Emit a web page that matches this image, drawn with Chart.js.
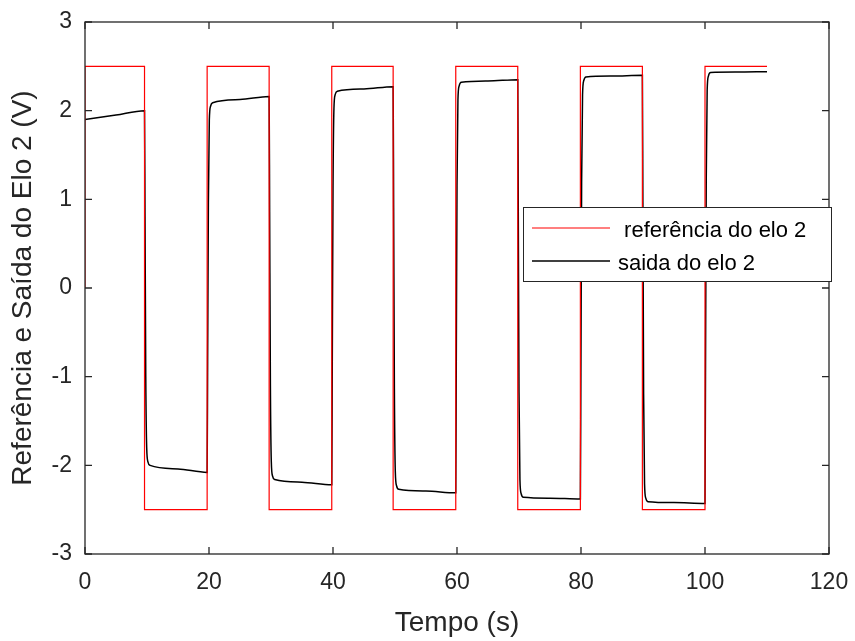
<!DOCTYPE html>
<html>
<head>
    <meta charset="utf-8">
    <title>Referência e Saída do Elo 2</title>
    <script src="https://cdn.jsdelivr.net/npm/chart.js"></script>
    <style>
        body { margin: 0; background: #fff; }
    </style>
</head>
<body>
<div style="width: 855px; height: 641px;">
    <canvas id="lineChart"></canvas>
</div>

<script>
    // referência (onda quadrada)
    const refX = [0, 0, 9.6, 9.6, 19.7, 19.7, 29.7, 29.7, 39.8, 39.8, 49.7, 49.7,
                  59.8, 59.8, 69.8, 69.8, 79.9, 79.9, 89.9, 89.9, 100, 100, 110];
    const refY = [0, 2.5, 2.5, -2.5, -2.5, 2.5, 2.5, -2.5, -2.5, 2.5, 2.5, -2.5,
                  -2.5, 2.5, 2.5, -2.5, -2.5, 2.5, 2.5, -2.5, -2.5, 2.5, 2.5];

    // saida do elo 2
    const outX = [0, 5, 9.6,
                  9.68, 9.8, 9.95, 10.15, 10.5, 15, 19.7,
                  19.78, 19.9, 20.05, 20.25, 20.6, 25, 29.7,
                  29.78, 29.9, 30.05, 30.25, 30.6, 35, 39.8,
                  39.88, 40.0, 40.15, 40.35, 40.7, 45, 49.7,
                  49.78, 49.9, 50.05, 50.25, 50.6, 55, 59.8,
                  59.88, 60.0, 60.15, 60.35, 60.7, 65, 69.8,
                  69.88, 70.0, 70.15, 70.35, 70.7, 75, 79.9,
                  79.98, 80.1, 80.25, 80.45, 80.8, 85, 89.9,
                  89.98, 90.1, 90.25, 90.45, 90.8, 95, 100,
                  100.08, 100.2, 100.35, 100.55, 100.9, 105, 110];
    const outY = [1.90, 1.95, 2.00,
                  0.80, -1.00, -1.80, -1.96, -2.00, -2.04, -2.08,
                  -0.83, 0.96, 1.89, 2.05, 2.09, 2.125, 2.16,
                  0.86, -1.08, -1.96, -2.12, -2.16, -2.19, -2.22,
                  -0.89, 1.11, 2.02, 2.18, 2.22, 2.245, 2.27,
                  0.91, -1.14, -2.07, -2.23, -2.27, -2.29, -2.31,
                  -0.92, 1.16, 2.12, 2.28, 2.32, 2.335, 2.35,
                  0.94, -1.18, -2.16, -2.32, -2.36, -2.37, -2.38,
                  -0.95, 1.19, 2.18, 2.34, 2.38, 2.39, 2.40,
                  0.96, -1.20, -2.21, -2.37, -2.41, -2.42, -2.43,
                  -0.97, 1.22, 2.23, 2.39, 2.43, 2.435, 2.44];

    const labels = [' referência do elo 2', 'saida do elo 2'];
    const xTicks = [0, 20, 40, 60, 80, 100, 120];
    const yTicks = [-3, -2, -1, 0, 1, 2, 3];

    const axisColor = '#262626';
    const fontFamily = '"Liberation Sans", Arial, sans-serif';

    const toPoints = (xs, ys) => xs.map((x, i) => ({ x: x, y: ys[i] }));

    // caixa, marcas internas e legenda no estilo MATLAB
    const boxPlugin = {
        id: 'boxPlugin',
        afterDatasetsDraw(chart) {
            const c = chart.ctx;
            const a = chart.chartArea;
            const xs = chart.scales.x, ys = chart.scales.y;
            c.save();
            c.strokeStyle = axisColor;
            c.lineWidth = 1.3;
            c.strokeRect(a.left, a.top, a.right - a.left, a.bottom - a.top);
            c.beginPath();
            xTicks.forEach(v => {
                const px = xs.getPixelForValue(v);
                c.moveTo(px, a.bottom); c.lineTo(px, a.bottom - 7);
                c.moveTo(px, a.top); c.lineTo(px, a.top + 7);
            });
            yTicks.forEach(v => {
                const py = ys.getPixelForValue(v);
                c.moveTo(a.left, py); c.lineTo(a.left + 7, py);
                c.moveTo(a.right, py); c.lineTo(a.right - 7, py);
            });
            c.stroke();

            // legenda
            const bx = a.right - 306, by = a.top + 185, bw = 308, bh = 74;
            c.fillStyle = '#fff';
            c.fillRect(bx, by, bw, bh);
            c.lineWidth = 1;
            c.strokeStyle = axisColor;
            c.strokeRect(bx + 0.5, by + 0.5, bw, bh);
            const rows = [by + 21, by + 54];
            chart.data.datasets.forEach((ds, i) => {
                c.beginPath();
                c.strokeStyle = ds.borderColor;
                c.lineWidth = ds.borderWidth;
                c.moveTo(bx + 9, rows[i]);
                c.lineTo(bx + 87, rows[i]);
                c.stroke();
                c.fillStyle = '#000';
                c.font = '22px ' + fontFamily;
                c.textBaseline = 'alphabetic';
                c.fillText(ds.label, bx + 95, rows[i] + 9);
            });
            c.restore();
        }
    };

    const ctx = document.getElementById('lineChart').getContext('2d');
    const lineChart = new Chart(ctx, {
        type: 'scatter',
        data: {
            datasets: [{
                label: labels[0],
                data: toPoints(refX, refY),
                showLine: true,
                borderColor: '#ff0000',
                borderWidth: 1.2,
                pointRadius: 0,
                tension: 0
            }, {
                label: labels[1],
                data: toPoints(outX, outY),
                showLine: true,
                borderColor: '#000000',
                borderWidth: 1.5,
                pointRadius: 0,
                cubicInterpolationMode: 'monotone'
            }]
        },
        options: {
            responsive: true,
            maintainAspectRatio: false,
            animation: false,
            layout: { padding: { top: 22, right: 26, left: 0, bottom: 0 } },
            plugins: {
                legend: { display: false },
                tooltip: { enabled: false }
            },
            scales: {
                x: {
                    type: 'linear',
                    min: 0, max: 120,
                    afterBuildTicks: s => { s.ticks = xTicks.map(v => ({ value: v })); },
                    afterFit: s => { s.height = 87; s.paddingLeft = 0; s.paddingRight = 0; },
                    grid: { display: false, drawTicks: false },
                    border: { display: false },
                    ticks: { color: axisColor, padding: 15, maxRotation: 0,
                             font: { size: 23, family: fontFamily } },
                    title: { display: true, text: 'Tempo (s)', color: axisColor,
                             padding: { top: 4, bottom: 1 },
                             font: { size: 28, family: fontFamily } }
                },
                y: {
                    min: -3, max: 3,
                    afterBuildTicks: s => { s.ticks = yTicks.map(v => ({ value: v })); },
                    afterFit: s => { s.width = 85; s.paddingTop = 0; s.paddingBottom = 0; },
                    grid: { display: false, drawTicks: false },
                    border: { display: false },
                    ticks: { color: axisColor, padding: 13,
                             font: { size: 23, family: fontFamily } },
                    title: { display: true, text: 'Referência e Saída do Elo 2 (V)', color: axisColor,
                             padding: { top: 6, bottom: 0 },
                             font: { size: 28, family: fontFamily } }
                }
            }
        },
        plugins: [boxPlugin]
    });
</script>

</body>
</html>
